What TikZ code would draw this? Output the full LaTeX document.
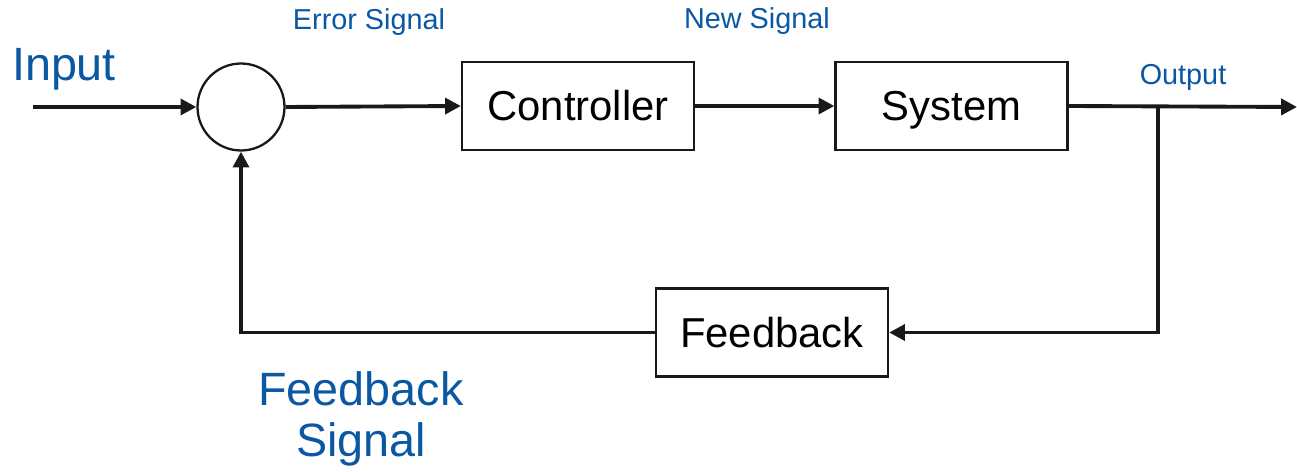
\documentclass[tikz,border=0pt]{standalone}
\usepackage{fontspec}
\setmainfont{Liberation Sans}
\usetikzlibrary{arrows.meta}
\definecolor{lblue}{RGB}{10,88,164}
\begin{document}
\begin{tikzpicture}[x=0.02cm,y=-0.02cm,
 blk/.style={draw=black!90, line width=1.3pt, minimum width=4.64cm, minimum height=1.76cm, inner sep=0pt,
   font=\fontsize{23.8}{28}\selectfont, text height=17pt, text depth=0pt},
 sumj/.style={circle, draw=black!90, line width=1.3pt, minimum size=1.74cm, inner sep=0pt},
 wire/.style={line width=2.2pt, draw=black!90},
 arr/.style={wire, -{Triangle[length=9pt,width=9pt]}},
 lbl/.style={text=lblue, inner sep=0pt},
 ]
\useasboundingbox (0,0) rectangle (1297,472);
\node[sumj] (sum) at (241,107) {};
\node[blk] (ctrl) at (578,106) {Controller};
\node[blk] (sys) at (951.5,106) {System};
\node[blk] (fb) at (772,332.5) {Feedback};
\coordinate (in) at (33,107);
\coordinate (out) at (1297,107);
\coordinate (br) at (1158,107);
\draw[arr] (in) -- (sum.west);
\draw[arr] (sum.east) -- (ctrl.west);
\draw[arr] (ctrl.east) -- (sys.west);
\draw[arr] (sys.east) -- (out);
\draw[arr] (br) |- (fb.east);
\draw[arr] (fb.west) -| (sum.south);
\node[lbl, anchor=base, font=\fontsize{26.6}{30}\selectfont] (inl) at (64,81) {Input};
\node[lbl, anchor=base, font=\fontsize{16.4}{19}\selectfont] (errl) at (369,30) {Error Signal};
\node[lbl, anchor=base, font=\fontsize{16.4}{19}\selectfont] (newl) at (757,29) {New Signal};
\node[lbl, anchor=base, font=\fontsize{16.4}{19}\selectfont] (outl) at (1183,85) {Output};
\node[lbl, align=center, font=\fontsize{26.6}{29.5}\selectfont] (fbl) at (361,419) {Feedback\\Signal};
\end{tikzpicture}
\end{document}
